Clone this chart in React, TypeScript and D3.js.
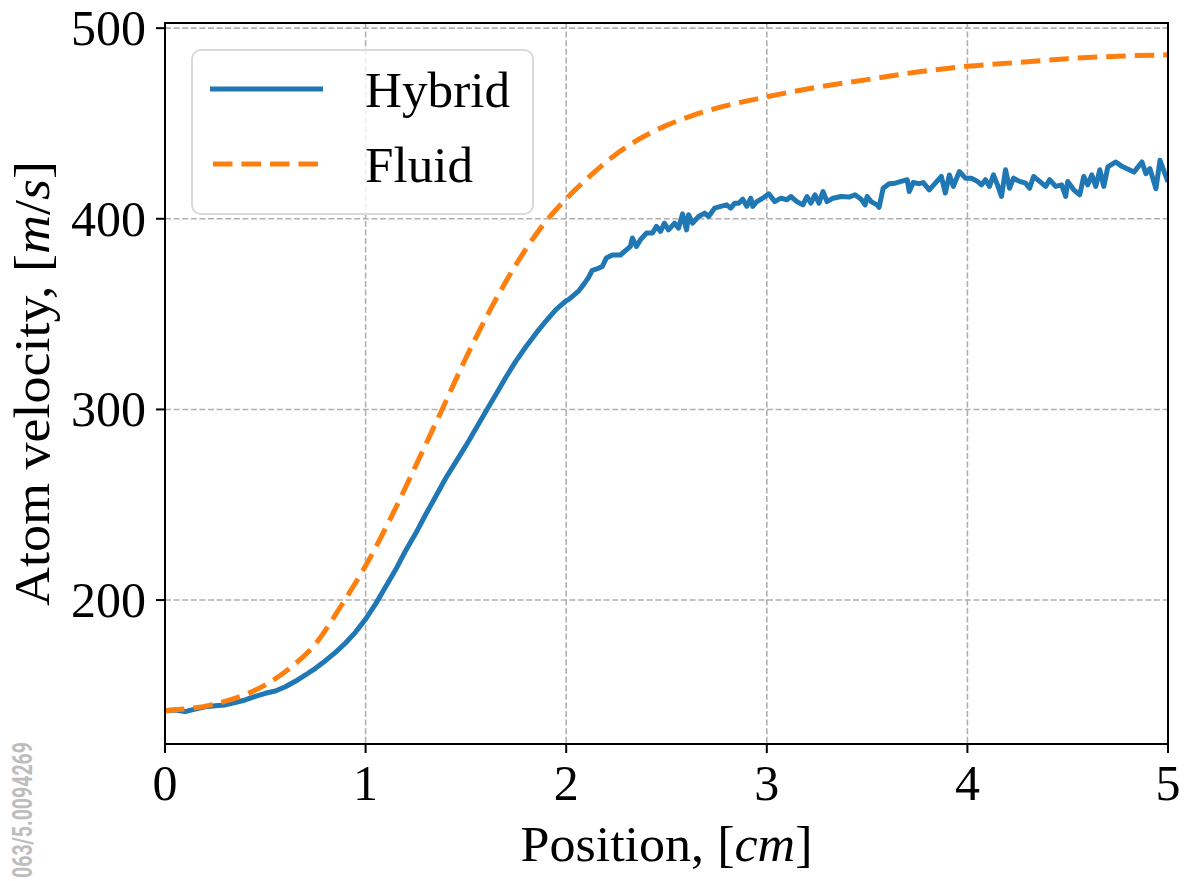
import React from 'react';
import * as d3 from 'd3';

const xTicks = [0, 1, 2, 3, 4, 5];
const yTicks = [200, 300, 400, 500];

const fluidX = [0, 0.25, 0.5, 0.625, 0.75, 0.875, 1.0, 1.125, 1.25, 1.375, 1.5, 1.625, 1.75, 1.875, 2.0, 2.125, 2.25, 2.375, 2.5, 2.625, 2.75, 3.0, 3.25, 3.5, 3.75, 4.0, 4.25, 4.5, 4.75, 5.0];
const fluidV = [142, 145.5, 155.5, 164.5, 177, 196.5, 218, 243, 270.5, 298.5, 327, 353, 376, 395.5, 410.5, 423, 434, 442.5, 449, 454, 458, 464, 469, 473, 477, 480, 482, 484, 485.3, 486];

const hybridPoints: [number, number][] = [
  [0, 142], [0.05, 142.3], [0.1, 141.5], [0.15, 142.8], [0.2, 144], [0.25, 144.6], [0.3, 145], [0.35, 146.2],
  [0.4, 147.6], [0.45, 149.5], [0.5, 151.1], [0.55, 152.3], [0.6, 154.5], [0.65, 157.4], [0.7, 160.7], [0.75, 164.2],
  [0.8, 168.2], [0.85, 172.6], [0.9, 177.5], [0.95, 183.2], [1.0, 190], [1.05, 198], [1.1, 207], [1.15, 216],
  [1.2, 226], [1.25, 235], [1.3, 245], [1.35, 254.5], [1.4, 264], [1.45, 272.5], [1.5, 281], [1.55, 290],
  [1.6, 299], [1.65, 308], [1.7, 317], [1.75, 325.5], [1.8, 333], [1.85, 340], [1.9, 346.5], [1.95, 352.5],
  [2.0, 357], [2.01, 357.5], [2.06, 361.9], [2.09, 366], [2.11, 369], [2.13, 373], [2.16, 374], [2.18, 375],
  [2.2, 379.4], [2.23, 381], [2.27, 381], [2.3, 383.7], [2.32, 385.5], [2.33, 389.9], [2.35, 385.5], [2.37, 389],
  [2.4, 392.5], [2.43, 392.5], [2.45, 396], [2.47, 393.4], [2.49, 397.7], [2.51, 394.2], [2.54, 397.7], [2.56, 395.1],
  [2.58, 402.6], [2.6, 394.2], [2.61, 402.1], [2.63, 397.7], [2.66, 401.2], [2.69, 403], [2.71, 401.2], [2.74, 405.6],
  [2.77, 406.5], [2.8, 407.3], [2.82, 405.6], [2.84, 408.2], [2.86, 408.2], [2.88, 410.3], [2.9, 406.5], [2.92, 410.8],
  [2.93, 406.5], [2.95, 409], [2.98, 410.8], [3.01, 413.1], [3.04, 409], [3.07, 410.8], [3.1, 410], [3.12, 411.7],
  [3.15, 409], [3.18, 407.3], [3.2, 411.7], [3.22, 408.2], [3.24, 412.6], [3.26, 408.2], [3.28, 414.3], [3.3, 409],
  [3.33, 410.8], [3.37, 411.7], [3.41, 411.4], [3.44, 412.6], [3.47, 410.3], [3.49, 407.3], [3.5, 411.7], [3.52, 409],
  [3.55, 407.3], [3.56, 406], [3.58, 416], [3.61, 418.4], [3.64, 418.7], [3.67, 419.6], [3.7, 420.5], [3.71, 414.3],
  [3.73, 419], [3.76, 418.4], [3.78, 419], [3.81, 415.2], [3.84, 418.7], [3.87, 422.2], [3.89, 413.5], [3.91, 423],
  [3.93, 417], [3.96, 424.8], [3.99, 421.3], [4.02, 421.3], [4.05, 419.6], [4.07, 417.8], [4.09, 420.5], [4.11, 417],
  [4.13, 423], [4.15, 417.8], [4.17, 411.7], [4.19, 425.7], [4.21, 416], [4.23, 421.3], [4.26, 419.6], [4.29, 418.7],
  [4.31, 416], [4.33, 422.2], [4.36, 419.6], [4.39, 417], [4.41, 420.5], [4.44, 417], [4.47, 417.8], [4.49, 411.7],
  [4.5, 419.6], [4.53, 415.2], [4.56, 412.6], [4.58, 422.2], [4.6, 417.8], [4.62, 423], [4.64, 417], [4.66, 425.7],
  [4.68, 417], [4.7, 427.2], [4.74, 429.8], [4.77, 427.5], [4.83, 424.5], [4.87, 429.8], [4.89, 423.7], [4.91, 426.3],
  [4.94, 415.8], [4.96, 430.7], [5.0, 419.3],
];

const seriesNames = ['Hybrid', 'Fluid'];
const xLabelMain = 'Position, ';
const yLabelMain = 'Atom velocity, ';
const watermark = '063/5.0094269';

const BLUE = '#1f77b4';
const ORANGE = '#ff7f0e';
const GRID = '#b0b0b0';
const SERIF = '"Liberation Serif", "DejaVu Serif", serif';

export default function App() {
  const W = 1184;
  const H = 881;
  const m = { left: 165, right: 1168, top: 23, bottom: 744 };
  const x = d3.scaleLinear().domain([0, 5]).range([m.left, m.right]);
  const y = d3.scaleLinear().domain([124.5, 502.7]).range([m.bottom, m.top]);

  const hybridLine = d3
    .line<[number, number]>()
    .x((d) => x(d[0]))
    .y((d) => y(d[1]))
    .curve(d3.curveLinear);
  const fluidLine = d3
    .line<number>()
    .x((_, i) => x(fluidX[i]))
    .y((d) => y(d))
    .curve(d3.curveMonotoneX);

  const fs = 50;

  return (
    <svg
      width={W}
      height={H}
      viewBox={`0 0 ${W} ${H}`}
      style={{ position: 'absolute', left: 0, top: 0, background: '#fff' }}
    >
      <rect x={0} y={0} width={W} height={H} fill="#fff" />
      <defs>
        <clipPath id="plotClip">
          <rect x={m.left} y={m.top} width={m.right - m.left} height={m.bottom - m.top} />
        </clipPath>
      </defs>

      {/* watermark */}
      <text
        transform={`translate(32, 742) rotate(-90)`}
        textAnchor="end"
        fontFamily="Roboto, 'Noto Sans', sans-serif"
        fontWeight={700}
        fontSize={28}
        fill="#bdbdbd"
        textLength={136}
        lengthAdjust="spacingAndGlyphs"
      >
        {watermark}
      </text>

      {/* grid */}
      <g stroke={GRID} strokeWidth={1.6} strokeDasharray="6 2.6">
        {xTicks.map((t) => (
          <line key={'gx' + t} x1={x(t)} x2={x(t)} y1={m.top} y2={m.bottom} />
        ))}
        {yTicks.map((t) => (
          <line key={'gy' + t} x1={m.left} x2={m.right} y1={y(t)} y2={y(t)} />
        ))}
      </g>

      {/* series */}
      <g clipPath="url(#plotClip)">
        <path
          d={hybridLine(hybridPoints) || ''}
          fill="none"
          stroke={BLUE}
          strokeWidth={5}
          strokeLinejoin="round"
          strokeLinecap="butt"
        />
        <path
          d={fluidLine(fluidV) || ''}
          fill="none"
          stroke={ORANGE}
          strokeWidth={5}
          strokeDasharray="19.5 9"
          strokeLinecap="butt"
        />
      </g>

      {/* spines */}
      <rect
        x={m.left}
        y={m.top}
        width={m.right - m.left}
        height={m.bottom - m.top}
        fill="none"
        stroke="#000"
        strokeWidth={2}
      />

      {/* ticks */}
      <g stroke="#000" strokeWidth={2}>
        {xTicks.map((t) => (
          <line key={'tx' + t} x1={x(t)} x2={x(t)} y1={m.bottom} y2={m.bottom + 9} />
        ))}
        {yTicks.map((t) => (
          <line key={'ty' + t} x1={m.left - 9} x2={m.left} y1={y(t)} y2={y(t)} />
        ))}
      </g>
      <g fontFamily={SERIF} fontSize={fs} fill="#000">
        {xTicks.map((t) => (
          <text key={'lx' + t} x={x(t)} y={800} textAnchor="middle">
            {String(t)}
          </text>
        ))}
        {yTicks.map((t) => (
          <text key={'ly' + t} x={146} y={y(t) + 17} textAnchor="end">
            {String(t)}
          </text>
        ))}
      </g>

      {/* axis labels */}
      <text
        x={(m.left + m.right) / 2}
        y={861}
        textAnchor="middle"
        fontFamily={SERIF}
        fontSize={fs}
        fill="#000"
        textLength={292}
        lengthAdjust="spacingAndGlyphs"
      >
        {xLabelMain}[<tspan fontStyle="italic">cm</tspan>]
      </text>
      <text
        transform={`translate(49, ${(m.top + m.bottom) / 2}) rotate(-90)`}
        textAnchor="middle"
        fontFamily={SERIF}
        fontSize={fs}
        fill="#000"
        textLength={445}
        lengthAdjust="spacingAndGlyphs"
      >
        {yLabelMain}[<tspan fontStyle="italic">m</tspan>/<tspan fontStyle="italic">s</tspan>]
      </text>

      {/* legend */}
      <rect
        x={192}
        y={50}
        width={341}
        height={164}
        rx={9}
        ry={9}
        fill="#fff"
        fillOpacity={0.8}
        stroke="#d9d9d9"
        strokeWidth={2}
      />
      <line x1={210} x2={323} y1={89} y2={89} stroke={BLUE} strokeWidth={5} />
      <line x1={213} x2={318} y1={164} y2={164} stroke={ORANGE} strokeWidth={5} strokeDasharray="19.5 9" />
      <text x={365} y={107} fontFamily={SERIF} fontSize={fs} fill="#000" textLength={145} lengthAdjust="spacingAndGlyphs">
        {seriesNames[0]}
      </text>
      <text x={365} y={182} fontFamily={SERIF} fontSize={fs} fill="#000" textLength={108} lengthAdjust="spacingAndGlyphs">
        {seriesNames[1]}
      </text>
    </svg>
  );
}
